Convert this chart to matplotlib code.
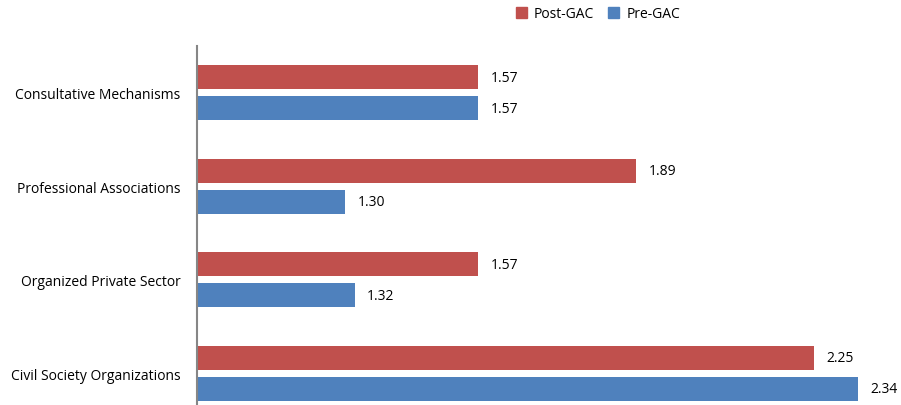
import numpy as np
import matplotlib
matplotlib.use('Agg')
import matplotlib.pyplot as plt
from matplotlib.patches import Patch

plt.rcParams['font.family'] = ['Open Sans', 'DejaVu Sans']

categories = ['Civil Society Organizations', 'Organized Private Sector',
              'Professional Associations', 'Consultative Mechanisms']
post_gac = [2.25, 1.57, 1.89, 1.57]
pre_gac = [2.34, 1.32, 1.30, 1.57]

red = '#C0504D'
blue = '#4F81BD'

fig = plt.figure(figsize=(9.01, 4.06), dpi=100)
# axis starts at 1.0, bottom category runs past the figure edge like the original
ax = fig.add_axes([197/901, 0, 704/901, (406-47)/406])

y = np.arange(len(categories))
h = 0.26
base = 1.0
ax.barh(y + 0.165, np.array(post_gac) - base, left=base, height=h, color=red)
ax.barh(y - 0.165, np.array(pre_gac) - base, left=base, height=h, color=blue)

for yi, v in zip(y, post_gac):
    ax.text(v + 0.025, yi + 0.165, f'{v:.2f}', va='center', ha='left', fontsize=10)
for yi, v in zip(y, pre_gac):
    ax.text(v + 0.025, yi - 0.165, f'{v:.2f}', va='center', ha='left', fontsize=10)

ax.set_xlim(1.0, 1.0 + 704/493.5)
ax.set_ylim(-0.5 + 15/93.5, 3.5)
ax.set_yticks(y)
ax.set_yticklabels(categories, fontsize=10)
ax.tick_params(axis='y', length=0, pad=12)
ax.set_xticks([])
for s in ['top', 'right', 'bottom']:
    ax.spines[s].set_visible(False)
ax.spines['left'].set_color('#868686')
ax.spines['left'].set_linewidth(1.5)

handles = [Patch(color=red, label='Post-GAC'), Patch(color=blue, label='Pre-GAC')]
fig.legend(handles=handles, loc='center', bbox_to_anchor=(598/901, 1 - 15/406),
           ncol=2, frameon=False, fontsize=10, handlelength=0.8, handleheight=0.8,
           handletextpad=0.5, columnspacing=1.0)

fig.savefig('out.png', dpi=100)
